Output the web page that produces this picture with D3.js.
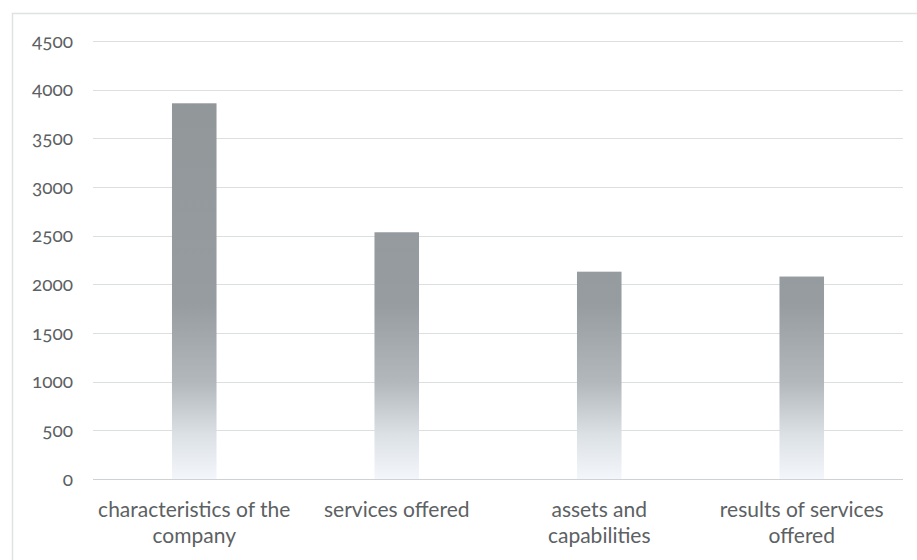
<!DOCTYPE html>
<html>
<head>
<meta charset="utf-8">
<script src="https://cdn.jsdelivr.net/npm/d3@7"></script>
<style>
  html, body { margin: 0; padding: 0; background: #fff; }
  svg text { font-family: Lato, "Open Sans", sans-serif; fill: #5c6163; font-variant-numeric: oldstyle-nums; }
</style>
</head>
<body>
<svg id="chart" width="917" height="560"></svg>
<script>
// Chart data
const categories = [
  ["characteristics of the", "company"],
  ["services offered"],
  ["assets and", "capabilities"],
  ["results of services", "offered"]
];
const values = [3860, 2535, 2130, 2080];
const yTicks = [0, 500, 1000, 1500, 2000, 2500, 3000, 3500, 4000, 4500];

const svg = d3.select("#chart");
const margin = { top: 41, right: 14, bottom: 81, left: 93 };
const width = 917 - margin.left - margin.right;
const height = 560 - margin.top - margin.bottom;

// Outer frame (top and left edges visible)
svg.append("path")
  .attr("d", "M12.5,560 V13.5 H917")
  .attr("fill", "none")
  .attr("stroke", "#dfe1e2")
  .attr("stroke-width", 1.5);

const g = svg.append("g").attr("transform", `translate(${margin.left},${margin.top})`);

const x = d3.scaleBand()
  .domain(d3.range(categories.length))
  .range([0, width])
  .paddingInner(0.78)
  .paddingOuter(0.39);

const y = d3.scaleLinear().domain([0, 4500]).range([height, 0]);

// Gradient shared by all bars in plot space: grey above, fading near the baseline
const defs = svg.append("defs");
const grad = defs.append("linearGradient")
  .attr("id", "barGrad")
  .attr("gradientUnits", "userSpaceOnUse")
  .attr("x1", 0).attr("y1", 0).attr("x2", 0).attr("y2", height);
grad.append("stop").attr("offset", "0%").attr("stop-color", "#909698");
grad.append("stop").attr("offset", "60%").attr("stop-color", "#969c9f");
grad.append("stop").attr("offset", "78%").attr("stop-color", "#b3b8bc");
grad.append("stop").attr("offset", "90%").attr("stop-color", "#dce1e6");
grad.append("stop").attr("offset", "100%").attr("stop-color", "#f3f7fb");

// Gridlines
g.append("g")
  .selectAll("line")
  .data(yTicks)
  .join("line")
  .attr("x1", 0)
  .attr("x2", width)
  .attr("y1", d => Math.round(y(d)) + 0.5)
  .attr("y2", d => Math.round(y(d)) + 0.5)
  .attr("stroke", d => d === 0 ? "#cfd2d4" : "#dcdfe0")
  .attr("stroke-width", 1.2);

// Y axis labels
const yAxis = d3.axisLeft(y).tickValues(yTicks).tickSize(0).tickPadding(20).tickFormat(d3.format("d"));
const ya = g.append("g").call(yAxis);
ya.select(".domain").remove();
ya.selectAll("text").style("font-size", "19px").attr("fill", "#5c6163");

// Bars
g.append("g")
  .selectAll("rect")
  .data(values)
  .join("rect")
  .attr("x", (d, i) => x(i))
  .attr("width", x.bandwidth())
  .attr("y", d => y(d))
  .attr("height", d => height - y(d))
  .attr("fill", "url(#barGrad)");

// Category labels (two lines where wrapped)
const xl = g.append("g")
  .selectAll("text")
  .data(categories)
  .join("text")
  .attr("text-anchor", "middle")
  .attr("x", (d, i) => x(i) + x.bandwidth() / 2)
  .attr("y", height + 38)
  .style("font-size", "21px");
xl.selectAll("tspan")
  .data(d => d)
  .join("tspan")
  .attr("x", function () { return d3.select(this.parentNode).attr("x"); })
  .attr("dy", (d, i) => i === 0 ? 0 : 26)
  .text(d => d);
</script>
</body>
</html>
